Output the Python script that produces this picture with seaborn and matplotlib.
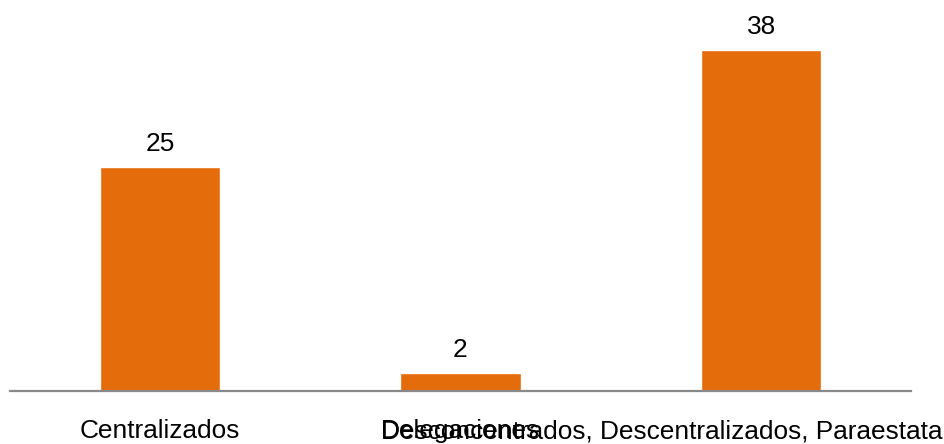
import matplotlib
matplotlib.use("Agg")
import matplotlib.pyplot as plt
import seaborn as sns

categories = ["Centralizados", "Delegaciones",
              "Desconcentrados, Descentralizados, Paraestatales"]
values = [25, 2, 38]

sns.set_style("white")
plt.rcParams["font.family"] = ["Liberation Sans", "DejaVu Sans"]

BAR_COLOR = "#E46C0A"
AXIS_COLOR = "#898989"
FS = 18.9

fig = plt.figure(figsize=(9.45, 4.44), dpi=100)
ax = fig.add_axes([9.5 / 945, 53 / 444, 902 / 945, 391 / 444])

sns.barplot(x=categories, y=values, color=BAR_COLOR, saturation=1,
            width=0.4, ax=ax)

ax.set_xlim(-0.5, 2.5)
ax.set_ylim(0, 43.6)
ax.set_xlabel("")
ax.set_ylabel("")
ax.set_yticks([])

for side in ("left", "right", "top"):
    ax.spines[side].set_visible(False)
ax.spines["bottom"].set_color(AXIS_COLOR)
ax.spines["bottom"].set_linewidth(1.6)

# value labels above each bar
for cont in ax.containers:
    ax.bar_label(cont, labels=[f"{v:g}" for v in values], padding=8,
                 fontsize=FS, color="black")

# category labels: the long third one starts where the second one starts
ax.set_xticks(range(len(categories)))
ax.set_xticklabels(categories[:2] + [""], fontsize=FS, color="black")
ax.tick_params(axis="x", length=0, pad=20.5)

fig.canvas.draw()
renderer = fig.canvas.get_renderer()
second = ax.get_xticklabels()[1]
bb = second.get_window_extent(renderer)
x_left = ax.transData.inverted().transform((bb.x0, bb.y0))[0]
y_mid = ax.transAxes.inverted().transform((bb.x0, (bb.y0 + bb.y1) / 2))[1]
ax.text(x_left, y_mid, categories[2], transform=ax.get_xaxis_transform(),
        ha="left", va="center", fontsize=FS, color="black", clip_on=False)

fig.savefig("out.png", dpi=100)
